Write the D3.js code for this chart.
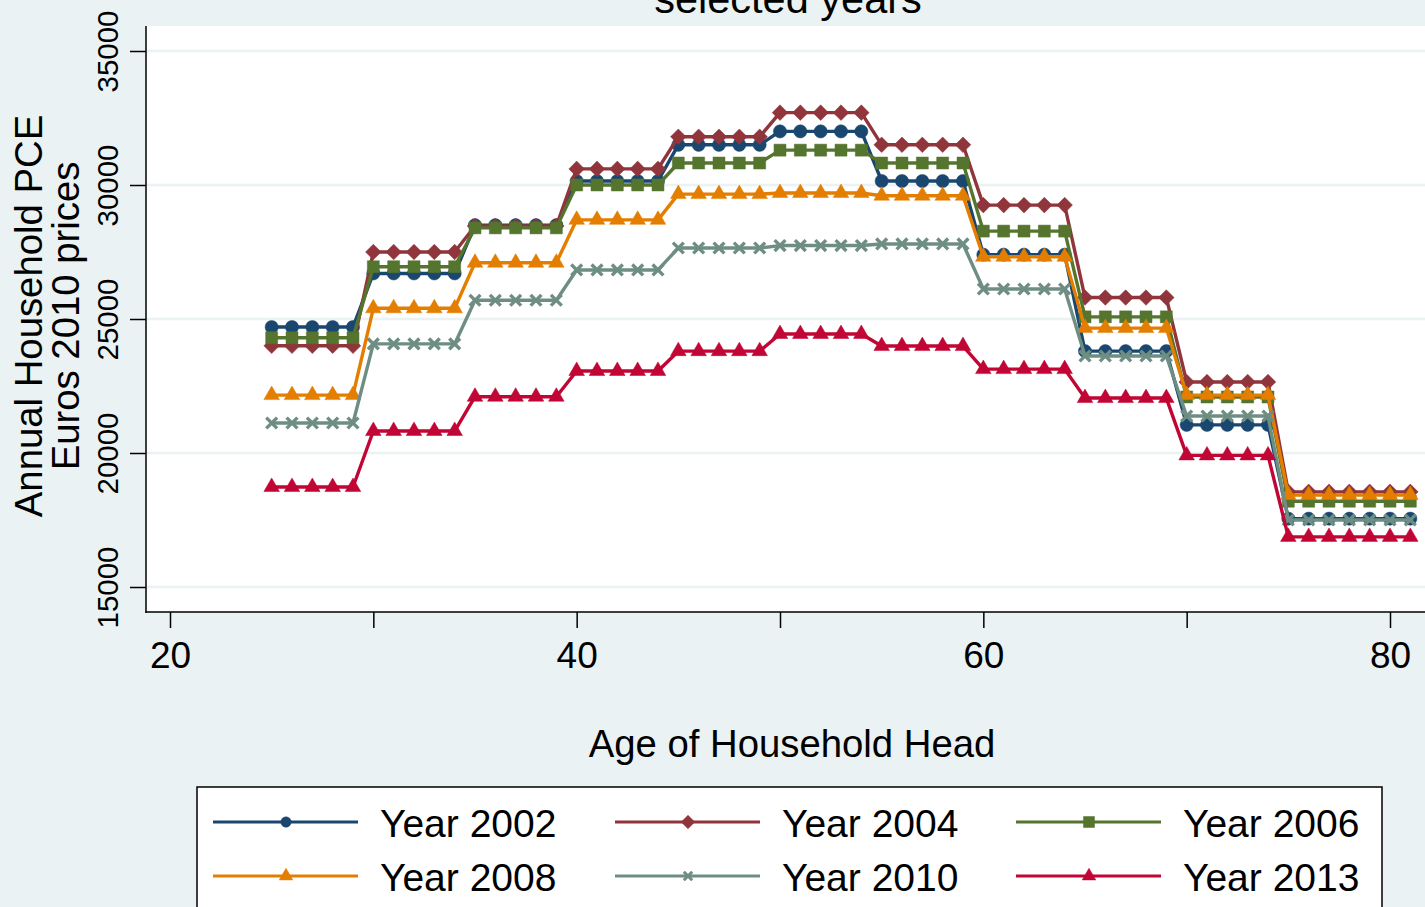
<!DOCTYPE html>
<html>
<head>
<meta charset="utf-8">
<title>Annual household PCE by age</title>
<style>
body { margin: 0; background: #eaf2f3; }
svg { display: block; font-family: "Liberation Sans", Arial, sans-serif; }
</style>
</head>
<body>
<script src="https://cdn.jsdelivr.net/npm/d3@7"></script>
<script>
// age bands (first and last age in each 5 year band)
var bandStart = [25, 30, 35, 40, 45, 50, 55, 60, 65, 70, 75];
var bandEnd   = [29, 34, 39, 44, 49, 54, 59, 64, 69, 74, 81];

// mean PCE per band
var y2002 = [24700, 26700, 28500, 30150, 31500, 32000, 30150, 27400, 23800, 21050, 17550];
var y2004 = [24000, 27500, 28470, 30600, 31800, 32700, 31500, 29250, 25800, 22650, 18550];
var y2006 = [24300, 26950, 28400, 30000, 30820, 31300, 30820, 28280, 25080, 22090, 18200];
var y2008 = [22160, 25400, 27100, 28700, 29660, 29700, 29600, 27320, 24660, 22160, 18430];
var y2010 = [21120, 24070, 25700, 26830, 27650, 27740, 27800, 26120, 23620, 21380, 17500];
var y2013 = [18730, 20820, 22100, 23060, 23800, 24440, 23990, 23130, 22050, 19910, 16870];

var seriesNames = ["Year 2002", "Year 2004", "Year 2006", "Year 2008", "Year 2010", "Year 2013"];
var seriesValues = [y2002, y2004, y2006, y2008, y2010, y2013];
var colors = ["#1a476f", "#90353b", "#55752f", "#e37e00", "#6e8e84", "#c10534"];
var shapes = ["circle", "diamond", "square", "triangle", "x", "triangle"];

var xTicks = [20, 30, 40, 50, 60, 70, 80];
var xLabels = [20, 40, 60, 80];
var yTicks = [15000, 20000, 25000, 30000, 35000];

var W = 1425, H = 907;
var plot = {left: 146, top: 26, right: 1440, bottom: 612};

var svg = d3.select("body").append("svg")
    .attr("width", W)
    .attr("height", H);

svg.append("rect")
    .attr("width", W).attr("height", H)
    .attr("fill", "#eaf2f3");

var x = d3.scaleLinear().domain([20, 80]).range([170, 1390]);
var y = d3.scaleLinear().domain([15000, 35000]).range([587, 51]);

// plot region
svg.append("rect")
    .attr("x", plot.left).attr("y", plot.top)
    .attr("width", plot.right - plot.left)
    .attr("height", plot.bottom - plot.top)
    .attr("fill", "#fff");

svg.append("g").selectAll("line")
    .data(yTicks)
  .enter().append("line")
    .attr("x1", plot.left).attr("x2", plot.right)
    .attr("y1", function(d) { return y(d); })
    .attr("y2", function(d) { return y(d); })
    .attr("stroke", "#eaf2f3")
    .attr("stroke-width", 2.5);

// title (first line falls off the top, as in the original)
svg.append("text")
    .attr("x", 788).attr("y", 13)
    .attr("text-anchor", "middle")
    .attr("font-size", 41.5)
    .text("selected years");

// axes
var yAxis = d3.axisLeft(y).tickValues(yTicks).tickSize(16).tickPadding(12)
    .tickFormat(d3.format("d"));
var gy = svg.append("g")
    .attr("transform", "translate(" + plot.left + ",0)")
    .call(yAxis);
gy.select(".domain").remove();
gy.append("line")
    .attr("x1", 0).attr("x2", 0)
    .attr("y1", plot.top).attr("y2", plot.bottom + 0.75)
    .attr("stroke", "#000").attr("stroke-width", 1.5);
gy.selectAll(".tick line").attr("stroke", "#000").attr("stroke-width", 1.5);
gy.selectAll(".tick text")
    .attr("font-family", "'Liberation Sans', Arial, sans-serif")
    .attr("font-size", 29.5)
    .attr("fill", "#000")
    .attr("x", null).attr("dy", null)
    .attr("text-anchor", "middle")
    .attr("transform", "translate(-28,0) rotate(-90)");

var xAxis = d3.axisBottom(x).tickValues(xTicks).tickSize(16).tickPadding(14)
    .tickFormat(function(d) { return xLabels.indexOf(d) >= 0 ? d : ""; });
var gx = svg.append("g")
    .attr("transform", "translate(0," + plot.bottom + ")")
    .call(xAxis);
gx.select(".domain").remove();
gx.append("line")
    .attr("x1", plot.left - 0.75).attr("x2", plot.right)
    .attr("y1", 0).attr("y2", 0)
    .attr("stroke", "#000").attr("stroke-width", 1.5);
gx.selectAll(".tick line").attr("stroke", "#000").attr("stroke-width", 1.5);
gx.selectAll(".tick text")
    .attr("font-family", "'Liberation Sans', Arial, sans-serif")
    .attr("font-size", 37)
    .attr("fill", "#000");

// axis titles
svg.append("text")
    .attr("x", 792).attr("y", 757)
    .attr("text-anchor", "middle")
    .attr("font-size", 38.3)
    .text("Age of Household Head");

var ytitle = svg.append("text")
    .attr("transform", "translate(42,316) rotate(-90)")
    .attr("text-anchor", "middle")
    .attr("font-size", 38.3);
ytitle.append("tspan").attr("x", 0).attr("y", 0).text("Annual Household PCE");
ytitle.append("tspan").attr("x", 0).attr("y", 37).text("Euros 2010 prices");

// markers
function markerPath(shape, s) {
  if (shape == "circle") return d3.symbol(d3.symbolCircle, Math.PI * s * s)();
  if (shape == "square") return d3.symbol(d3.symbolSquare, 4 * s * s)();
  if (shape == "diamond") return "M0," + (-s) + "L" + s + ",0L0," + s + "L" + (-s) + ",0Z";
  if (shape == "triangle") {
    var h = s * Math.sqrt(3);
    return "M0," + (-h * 2 / 3) + "L" + s + "," + (h / 3) + "L" + (-s) + "," + (h / 3) + "Z";
  }
  return "M" + (-s) + "," + (-s) + "L" + s + "," + s + "M" + (-s) + "," + s + "L" + s + "," + (-s);
}
var markerSize = {circle: 6.6, square: 6, diamond: 7.8, triangle: 7.8, x: 5.4};
var legendSize = {circle: 5.2, square: 5.5, diamond: 6.8, triangle: 6.8, x: 4.2};

function points(vals) {
  var pts = [];
  bandStart.forEach(function(a, i) {
    for (var age = a; age <= bandEnd[i]; age++) pts.push({age: age, v: vals[i]});
  });
  return pts;
}

var line = d3.line()
    .x(function(d) { return x(d.age); })
    .y(function(d) { return y(d.v); });

seriesValues.forEach(function(vals, k) {
  var pts = points(vals);
  var g = svg.append("g");
  g.append("path")
      .datum(pts)
      .attr("d", line)
      .attr("fill", "none")
      .attr("stroke", colors[k])
      .attr("stroke-width", 3.4)
      .attr("stroke-linejoin", "round");
  g.selectAll(".m")
      .data(pts)
    .enter().append("path")
      .attr("transform", function(d) { return "translate(" + x(d.age) + "," + y(d.v) + ")"; })
      .attr("d", markerPath(shapes[k], markerSize[shapes[k]]))
      .attr("fill", shapes[k] == "x" ? "none" : colors[k])
      .attr("stroke", colors[k])
      .attr("stroke-width", shapes[k] == "x" ? 3.4 : 0.5);
});

// legend
svg.append("rect")
    .attr("x", 197).attr("y", 787)
    .attr("width", 1185).attr("height", 140)
    .attr("fill", "#fff")
    .attr("stroke", "#000")
    .attr("stroke-width", 1.5);

var colX = [213, 615, 1016];
var rowY = [822, 876];
seriesNames.forEach(function(name, k) {
  var cx = colX[k % 3], cy = rowY[Math.floor(k / 3)];
  var g = svg.append("g").attr("transform", "translate(" + cx + "," + cy + ")");
  g.append("line")
      .attr("x1", 0).attr("x2", 145)
      .attr("stroke", colors[k]).attr("stroke-width", 3.2);
  g.append("path")
      .attr("transform", "translate(73,0)")
      .attr("d", markerPath(shapes[k], legendSize[shapes[k]]))
      .attr("fill", shapes[k] == "x" ? "none" : colors[k])
      .attr("stroke", colors[k])
      .attr("stroke-width", shapes[k] == "x" ? 3 : 0.5);
  g.append("text")
      .attr("x", 167).attr("y", 14.5)
      .attr("font-size", 39)
      .text(name);
});
</script>
</body>
</html>
